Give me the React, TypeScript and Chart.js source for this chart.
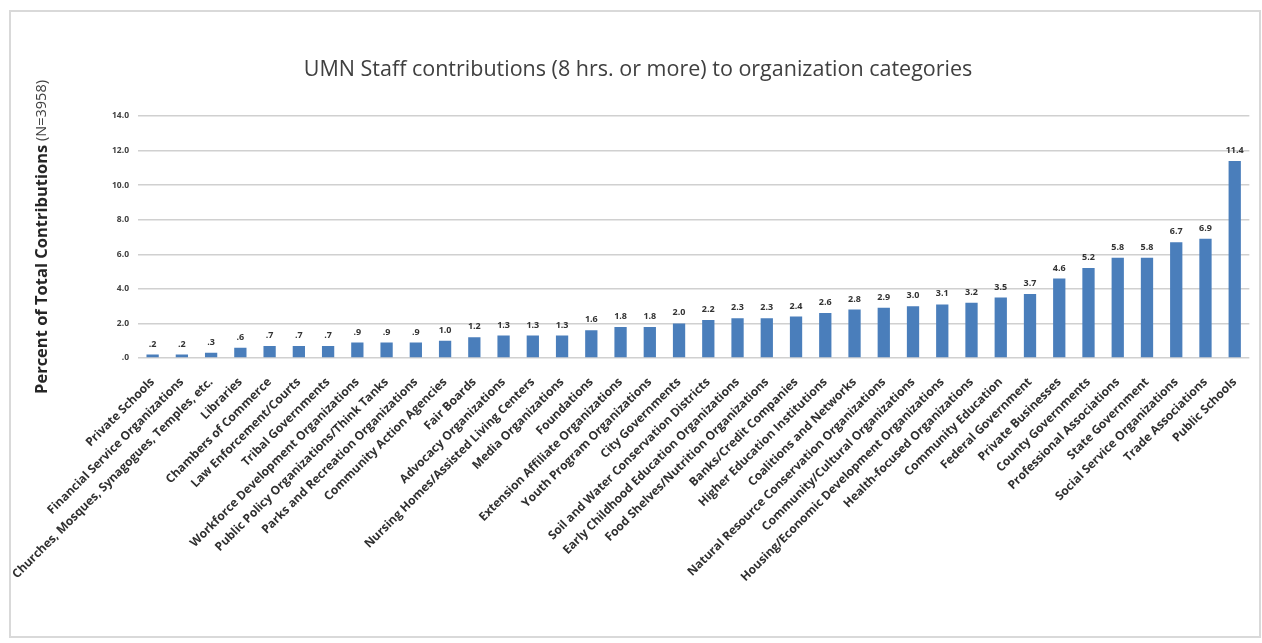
import React, { useEffect, useRef } from "react";
import { Chart, registerables } from "chart.js";

Chart.register(...registerables);

const chartTitle = "UMN Staff contributions (8 hrs. or more) to organization categories";
const yTitleBold = "Percent of Total Contributions";
const yTitleNormal = " (N=3958)";

const categories = [
  "Private Schools",
  "Financial Service Organizations",
  "Churches, Mosques, Synagogues, Temples, etc.",
  "Libraries",
  "Chambers of Commerce",
  "Law Enforcement/Courts",
  "Tribal Governments",
  "Workforce Development Organizations",
  "Public Policy Organizations/Think Tanks",
  "Parks and Recreation Organizations",
  "Community Action Agencies",
  "Fair Boards",
  "Advocacy Organizations",
  "Nursing Homes/Assisted Living Centers",
  "Media Organizations",
  "Foundations",
  "Extension Affiliate Organizations",
  "Youth Program Organizations",
  "City Governments",
  "Soil and Water Conservation Districts",
  "Early Childhood Education Organizations",
  "Food Shelves/Nutrition Organizations",
  "Banks/Credit Companies",
  "Higher Education Institutions",
  "Coalitions and Networks",
  "Natural Resource Conservation Organizations",
  "Community/Cultural Organizations",
  "Housing/Economic Development Organizations",
  "Health-focused Organizations",
  "Community Education",
  "Federal Government",
  "Private Businesses",
  "County Governments",
  "Professional Associations",
  "State Government",
  "Social Service Organizations",
  "Trade Associations",
  "Public Schools",
];

const values = [
  0.2, 0.2, 0.3, 0.6, 0.7, 0.7, 0.7, 0.9, 0.9, 0.9, 1.0, 1.2, 1.3, 1.3, 1.3,
  1.6, 1.8, 1.8, 2.0, 2.2, 2.3, 2.3, 2.4, 2.6, 2.8, 2.9, 3.0, 3.1, 3.2, 3.5,
  3.7, 4.6, 5.2, 5.8, 5.8, 6.7, 6.9, 11.4,
];

const yMin = 0;
const yMax = 14;
const yStep = 2;

const FONT = "'Open Sans', Lato, 'DejaVu Sans', sans-serif";

const fmt = (v: number) => {
  const s = v.toFixed(1);
  return v < 1 ? s.replace(/^0/, "") : s;
};

const decorPlugin = {
  id: "decor",
  beforeDraw(chart: any) {
    const ctx = chart.ctx;
    ctx.save();
    ctx.fillStyle = "#ffffff";
    ctx.fillRect(0, 0, chart.width, chart.height);
    ctx.strokeStyle = "#d9d9d9";
    ctx.lineWidth = 2;
    ctx.strokeRect(10, 11, 1250, 626);
    ctx.restore();
  },
  afterDraw(chart: any) {
    const ctx = chart.ctx;
    const area = chart.chartArea;
    ctx.save();
    ctx.fillStyle = "#404040";
    ctx.font = `21.5px ${FONT}`;
    ctx.textAlign = "center";
    ctx.textBaseline = "middle";
    ctx.fillText(chartTitle, 638, 70);
    ctx.translate(42, (area.top + area.bottom) / 2);
    ctx.rotate(-Math.PI / 2);
    ctx.font = `bold 16.5px ${FONT}`;
    const w1 = ctx.measureText(yTitleBold).width;
    ctx.font = `14.5px ${FONT}`;
    const w2 = ctx.measureText(yTitleNormal).width;
    const start = -(w1 + w2) / 2;
    ctx.textAlign = "left";
    ctx.fillStyle = "#262626";
    ctx.font = `bold 16.5px ${FONT}`;
    ctx.fillText(yTitleBold, start, 0);
    ctx.font = `14.5px ${FONT}`;
    ctx.fillStyle = "#404040";
    ctx.fillText(yTitleNormal, start + w1, 0);
    ctx.restore();
  },
  afterDatasetsDraw(chart: any) {
    const ctx = chart.ctx;
    const meta = chart.getDatasetMeta(0);
    const data = chart.data.datasets[0].data as number[];
    ctx.save();
    ctx.fillStyle = "#333333";
    ctx.font = `bold 9px ${FONT}`;
    ctx.textAlign = "center";
    ctx.textBaseline = "bottom";
    meta.data.forEach((bar: any, i: number) => {
      ctx.fillText(fmt(data[i]), bar.x, bar.y - 6);
    });
    ctx.restore();
  },
};

export default function App() {
  const ref = useRef<HTMLCanvasElement | null>(null);

  useEffect(() => {
    if (!ref.current) return;
    const chart = new Chart(ref.current, {
      type: "bar",
      data: {
        labels: categories,
        datasets: [
          {
            data: values,
            backgroundColor: "#4a7ebb",
            barPercentage: 0.42,
            categoryPercentage: 1,
          },
        ],
      },
      options: {
        responsive: false,
        animation: false,
        devicePixelRatio: 1,
        layout: { padding: { top: 116, right: 7, left: 0, bottom: 0 } },
        plugins: {
          legend: { display: false },
          tooltip: { enabled: false },
          title: { display: false },
        },
        scales: {
          x: {
            grid: { display: false, drawTicks: false },
            border: { display: false },
            ticks: {
              autoSkip: false,
              maxRotation: 45,
              minRotation: 45,
              padding: 17,
              color: "#303030",
              font: { family: FONT, size: 12, weight: "bold" },
            },
            afterFit(scale: any) {
              scale.height = 643 - 358;
            },
          },
          y: {
            min: yMin,
            max: yMax,
            grid: { color: "#d0d0d0", lineWidth: 1.5, drawTicks: false },
            border: { display: false },
            ticks: {
              stepSize: yStep,
              padding: 9,
              color: "#404040",
              font: { family: FONT, size: 8.5, weight: "bold" },
              callback: (v: any) => fmt(Number(v)),
            },
            afterFit(scale: any) {
              scale.width = 138;
            },
          },
        },
      },
      plugins: [decorPlugin],
    });
    return () => chart.destroy();
  }, []);

  return (
    <canvas
      ref={ref}
      width={1262}
      height={643}
      style={{ position: "fixed", left: 0, top: 0, width: 1262, height: 643, display: "block" }}
    />
  );
}
